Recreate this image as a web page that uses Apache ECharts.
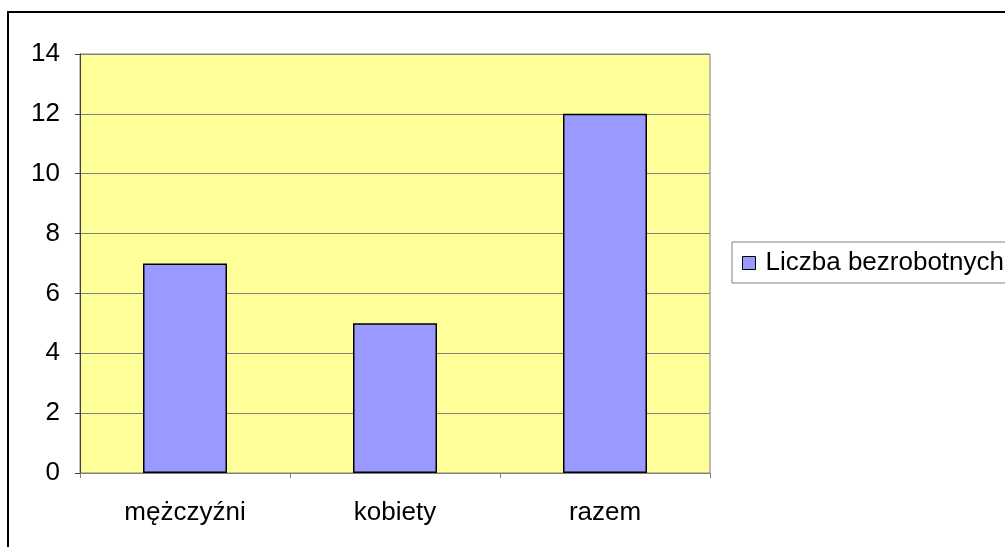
<!DOCTYPE html>
<html>
<head>
<meta charset="utf-8">
<title>Liczba bezrobotnych</title>
<script src="https://cdn.jsdelivr.net/npm/echarts@6/dist/echarts.min.js"></script>
<style>
  html, body { margin: 0; padding: 0; background: #fff; }
  #main { width: 1005px; height: 547px; }
</style>
</head>
<body>
<div id="main"></div>
<script>
// dane wykresu
var categories = ['mężczyźni', 'kobiety', 'razem'];
var values = [7, 5, 12];
var seriesName = 'Liczba bezrobotnych';
var yTicks = { min: 0, max: 14, step: 2 };

var myChart = echarts.init(document.getElementById('main'));

var option = {
  animation: false,
  textStyle: { fontFamily: 'Liberation Sans, Arial, sans-serif', color: '#000' },
  // ramka wokół całego wykresu (prawa i dolna krawędź poza kadrem)
  graphic: [{
    type: 'rect',
    shape: { x: 8, y: 12, width: 1100, height: 600 },
    style: { fill: 'none', stroke: '#000', lineWidth: 2 },
    silent: true,
    z: 0
  }],
  grid: {
    left: 80, top: 54, right: 295, bottom: 74,
    show: true,
    backgroundColor: '#FFFF99',
    borderColor: '#808080',
    borderWidth: 1
  },
  legend: {
    data: [seriesName],
    left: 732, top: 242,
    orient: 'vertical',
    padding: [8, 10, 7, 10],
    borderColor: '#808080',
    borderWidth: 1,
    backgroundColor: '#fff',
    itemWidth: 13, itemHeight: 13,
    icon: 'rect',
    itemStyle: { borderColor: '#000', borderWidth: 1 },
    textStyle: { fontSize: 26, lineHeight: 26, color: '#000', padding: [0, 0, 0, 5] }
  },
  xAxis: {
    type: 'category',
    data: categories,
    axisLine: { lineStyle: { color: '#808080', width: 1 } },
    axisTick: { show: true, length: 5, alignWithLabel: false, lineStyle: { color: '#808080' } },
    axisLabel: { fontSize: 26, color: '#000', margin: 27 }
  },
  yAxis: {
    type: 'value',
    min: yTicks.min, max: yTicks.max, interval: yTicks.step,
    axisLine: { show: true, lineStyle: { color: '#404040', width: 1 } },
    axisTick: { show: true, length: 5, lineStyle: { color: '#404040' } },
    axisLabel: { fontSize: 26, color: '#000', margin: 20 },
    splitLine: { lineStyle: { color: '#808080', width: 1 } }
  },
  series: [{
    name: seriesName,
    type: 'bar',
    data: values,
    barWidth: '40%',
    itemStyle: { color: '#9999FF', borderColor: '#000', borderWidth: 1.5 }
  }]
};
myChart.setOption(option);
</script>
</body>
</html>
